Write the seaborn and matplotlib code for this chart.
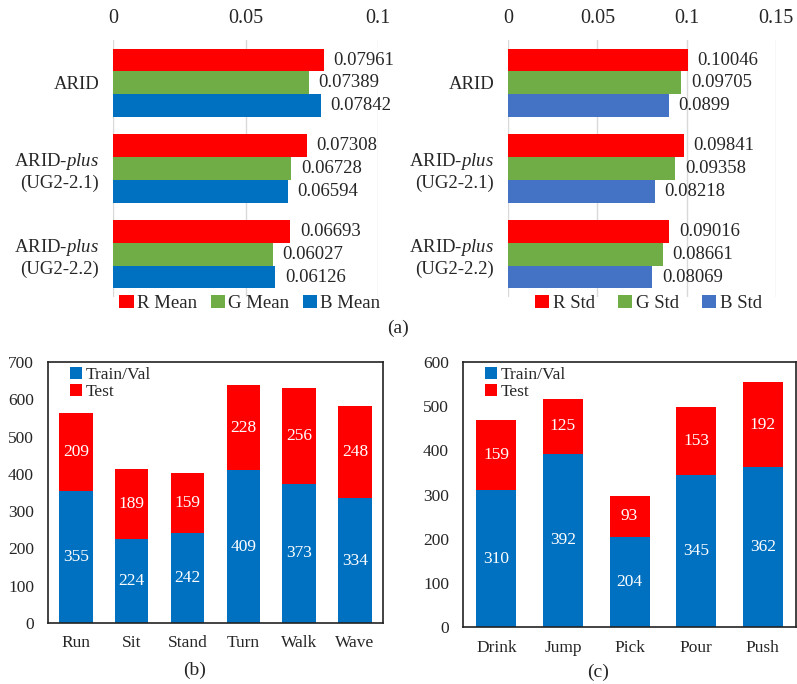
import matplotlib
matplotlib.use("Agg")
import matplotlib.pyplot as plt
import seaborn as sns
import pandas as pd
from matplotlib.patches import Patch

# ---------------- data ----------------
datasets = ["ARID", "ARID-$\\mathit{plus}$\n(UG2-2.1)", "ARID-$\\mathit{plus}$\n(UG2-2.2)"]
r_mean = [0.07961, 0.07308, 0.06693]
g_mean = [0.07389, 0.06728, 0.06027]
b_mean = [0.07842, 0.06594, 0.06126]
r_std = [0.10046, 0.09841, 0.09016]
g_std = [0.09705, 0.09358, 0.08661]
b_std = [0.08990, 0.08218, 0.08069]
mean_names = ["R Mean", "G Mean", "B Mean"]
std_names = ["R Std", "G Std", "B Std"]
mean_ticks = [0, 0.05, 0.1]
mean_tick_labels = ["0", "0.05", "0.1"]
std_ticks = [0, 0.05, 0.1, 0.15]
std_tick_labels = ["0", "0.05", "0.1", "0.15"]

actions_b = ["Run", "Sit", "Stand", "Turn", "Walk", "Wave"]
train_b = [355, 224, 242, 409, 373, 334]
test_b = [209, 189, 159, 228, 256, 248]
actions_c = ["Drink", "Jump", "Pick", "Pour", "Push"]
train_c = [310, 392, 204, 345, 362]
test_c = [159, 125, 93, 153, 192]

RED = "#FF0000"
GREEN = "#70AD47"
BLUE = "#0070C0"
BLUE2 = "#4472C4"

sns.set_theme(style="white")
plt.rcParams["font.family"] = ["Liberation Serif", "DejaVu Serif"]
plt.rcParams["mathtext.fontset"] = "custom"
plt.rcParams["mathtext.rm"] = "Liberation Serif"
plt.rcParams["mathtext.it"] = "Liberation Serif:italic"

fig = plt.figure(figsize=(7.97, 6.84), dpi=100)


def hbar_panel(rect, vals, names, colors, ticks, tick_labels, xmax, leg_x, colspace):
    ax = fig.add_axes(rect)
    rows = []
    for name, v in zip(names, vals):
        for d, x in zip(datasets, v):
            rows.append({"dataset": d, "channel": name, "value": x})
    df = pd.DataFrame(rows)
    sns.barplot(data=df, y="dataset", x="value", hue="channel", orient="h",
                palette=colors, saturation=1, ax=ax, width=0.8,
                edgecolor="none", legend=False)
    for c in ax.containers:
        ax.bar_label(c, fmt=lambda v: f"{v:g}", padding=7, fontsize=13.5)
    ax.set_xlim(0, xmax)
    ax.set_xticks(ticks)
    ax.set_xticklabels(tick_labels)
    ax.xaxis.tick_top()
    ax.tick_params(axis="x", length=0, pad=9, labelsize=14.5)
    ax.tick_params(axis="y", length=0, pad=10, labelsize=13.5)
    ax.grid(axis="x", color="#D9D9D9", linewidth=1)
    ax.set_axisbelow(True)
    for s in ax.spines.values():
        s.set_visible(False)
    ax.set_xlabel("")
    ax.set_ylabel("")
    handles = [Patch(facecolor=c, edgecolor="none") for c in colors]
    ax.legend(handles, names, loc="center", bbox_to_anchor=(leg_x, -0.025), ncol=3,
              frameon=False, fontsize=13.5, handlelength=0.75, handleheight=0.75,
              handletextpad=0.2, columnspacing=colspace, borderaxespad=0)
    return ax


hbar_panel([0.1418, 0.5658, 0.3325, 0.3757], [r_mean, g_mean, b_mean], mean_names,
           [RED, GREEN, BLUE], mean_ticks, mean_tick_labels, 0.1, 0.517, 0.7)
hbar_panel([0.6374, 0.5658, 0.3363, 0.3757], [r_std, g_std, b_std], std_names,
           [RED, GREEN, BLUE2], std_ticks, std_tick_labels, 0.15, 0.524, 1.25)


def stack_panel(rect, cats, train, test, ymax):
    ax = fig.add_axes(rect)
    total = [a + b for a, b in zip(train, test)]
    sns.barplot(x=cats, y=total, color=RED, saturation=1, width=0.6, ax=ax, edgecolor="none")
    sns.barplot(x=cats, y=train, color=BLUE, saturation=1, width=0.6, ax=ax, edgecolor="none")
    for i, (a, b) in enumerate(zip(train, test)):
        ax.text(i, a / 2, str(a), ha="center", va="center", color="white", fontsize=12.5)
        ax.text(i, a + b / 2, str(b), ha="center", va="center", color="white", fontsize=12.5)
    ax.set_ylim(0, ymax)
    ax.set_yticks(range(0, ymax + 1, 100))
    ax.set_xlim(-0.5, len(cats) - 0.5)
    ax.tick_params(axis="both", length=0, labelsize=12.5)
    ax.tick_params(axis="y", pad=10)
    ax.tick_params(axis="x", pad=9)
    for s in ax.spines.values():
        s.set_visible(True)
        s.set_color("#222222")
        s.set_linewidth(1.2)
    handles = [Patch(facecolor=BLUE, edgecolor="none"), Patch(facecolor=RED, edgecolor="none")]
    ax.legend(handles, ["Train/Val", "Test"], loc="upper left", bbox_to_anchor=(0.055, 0.995),
              frameon=False, fontsize=12.5, handlelength=0.7, handleheight=0.7,
              handletextpad=0.2, labelspacing=0.05, borderaxespad=0, borderpad=0.2)
    return ax


stack_panel([0.0602, 0.0892, 0.4203, 0.3816], actions_b, train_b, test_b, 700)
stack_panel([0.5809, 0.0833, 0.4180, 0.3874], actions_c, train_c, test_c, 600)

fig.text(398 / 797, 1 - 328 / 684, "(a)", ha="center", va="center", fontsize=14)
fig.text(195 / 797, 1 - 670 / 684, "(b)", ha="center", va="center", fontsize=14)
fig.text(598 / 797, 1 - 672 / 684, "(c)", ha="center", va="center", fontsize=14)

fig.savefig("out.png", dpi=100)
